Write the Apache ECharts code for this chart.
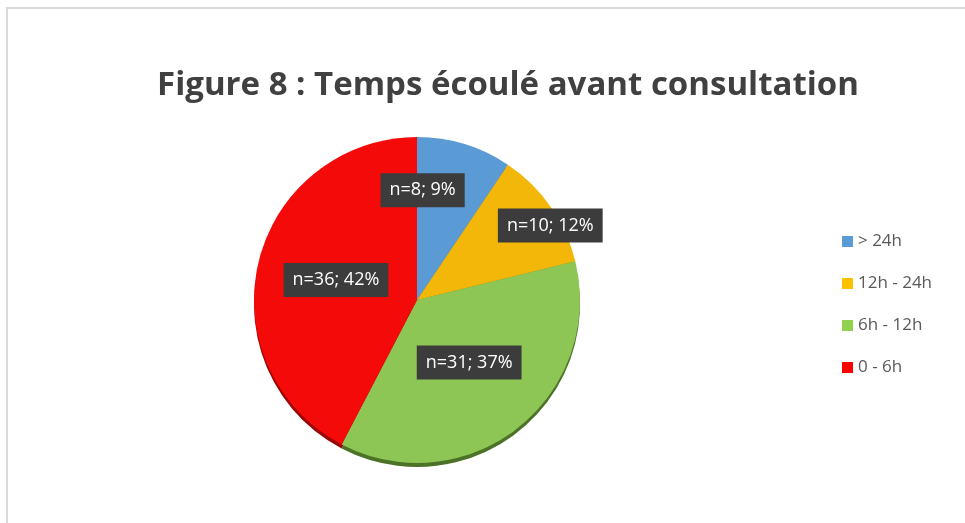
<!DOCTYPE html>
<html>
<head>
<meta charset="utf-8">
<script src="https://cdn.jsdelivr.net/npm/echarts@6/dist/echarts.min.js"></script>
<style>
  html, body { margin: 0; padding: 0; background: #fff; }
  #chart { width: 965px; height: 523px; }
</style>
</head>
<body>
<div id="chart"></div>
<script>
const categories = ['> 24h', '12h - 24h', '6h - 12h', '0 - 6h']
const counts = [8, 10, 31, 36]
const percents = [9, 12, 37, 42]

const colors = ['#5b9bd5', '#f2b709', '#8dc654', '#f50a0a']
const legendColors = ['#5b9bd5', '#ffc000', '#92d050', '#ff0000']
const rimColors = ['#3d6c99', '#a87f05', '#4c7228', '#9c0606']
// nudges from the default 'inside' label spot, to sit where the picture has them
const labelShift = [[-19, -29], [64, -26], [0, -4], [1, 0]]

const font = '"Open Sans", "Noto Sans", sans-serif'
const center = [417, 300]
const radius = 163

const chart = echarts.init(document.getElementById('chart'))
chart.setOption({
  animation: false,
  title: {
    text: 'Figure 8 : Temps écoulé avant consultation',
    left: 503,
    top: 64,
    textAlign: 'center',
    textStyle: {
      fontFamily: font,
      fontSize: 33,
      fontWeight: 'bold',
      color: '#404040'
    }
  },
  legend: {
    orient: 'vertical',
    left: 837,
    top: 228,
    itemWidth: 11,
    itemHeight: 11,
    itemGap: 25,
    icon: 'rect',
    data: categories.map((c, i) => ({ name: c, itemStyle: { color: legendColors[i] } })),
    textStyle: {
      fontFamily: font,
      fontSize: 17,
      color: '#595959'
    }
  },
  graphic: [{
    type: 'rect',
    silent: true,
    shape: { x: 7, y: 8, width: 1100, height: 700 },
    style: { fill: 'none', stroke: '#d9d9d9', lineWidth: 2 }
  }],
  series: [{
    // darker copy pushed down a few px, gives the thin 3D rim
    type: 'pie',
    silent: true,
    center: [center[0], center[1] + 4],
    radius: radius,
    startAngle: 90,
    label: { show: false },
    labelLine: { show: false },
    itemStyle: { borderWidth: 0 },
    data: categories.map((c, i) => ({
      name: c,
      value: counts[i],
      itemStyle: { color: rimColors[i] }
    }))
  }, {
    type: 'pie',
    center: center,
    radius: radius,
    startAngle: 90,
    itemStyle: { borderWidth: 0 },
    label: {
      show: true,
      position: 'inside',
      formatter: p => 'n=' + counts[p.dataIndex] + '; ' + percents[p.dataIndex] + '%',
      fontFamily: font,
      fontSize: 18,
      color: '#ffffff',
      backgroundColor: '#3c3c3c',
      padding: [8, 9, 8, 9]
    },
    labelLayout: p => ({ dx: labelShift[p.dataIndex][0], dy: labelShift[p.dataIndex][1] }),
    emphasis: { scale: false },
    data: categories.map((c, i) => ({
      name: c,
      value: counts[i],
      itemStyle: { color: colors[i] }
    }))
  }]
})
</script>
</body>
</html>
